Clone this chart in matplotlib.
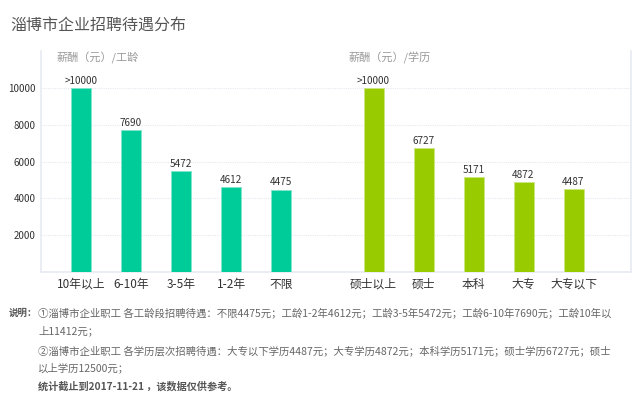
import numpy as np
import matplotlib
matplotlib.use("Agg")
import matplotlib.pyplot as plt

plt.rcParams['font.family'] = ['Noto Sans CJK SC', 'DejaVu Sans']

# data
age_cats = ["10年以上", "6-10年", "3-5年", "1-2年", "不限"]
age_vals = [10000, 7690, 5472, 4612, 4475]
age_labels = [">10000", "7690", "5472", "4612", "4475"]

edu_cats = ["硕士以上", "硕士", "本科", "大专", "大专以下"]
edu_vals = [10000, 6727, 5171, 4872, 4487]
edu_labels = [">10000", "6727", "5171", "4872", "4487"]

yticks = [2000, 4000, 6000, 8000, 10000]

title = "淄博市企业招聘待遇分布"
notes = [
    "①淄博市企业职工 各工龄段招聘待遇：不限4475元；工龄1-2年4612元；工龄3-5年5472元；工龄6-10年7690元；工龄10年以",
    "上11412元；",
    "②淄博市企业职工 各学历层次招聘待遇：大专以下学历4487元；大专学历4872元；本科学历5171元；硕士学历6727元；硕士",
    "以上学历12500元；",
]
footer = "统计截止到2017-11-21 ，该数据仅供参考。"

fig = plt.figure(figsize=(6.4, 4.07), dpi=100)
ax = fig.add_axes([41 / 640, 1 - 272 / 407, 590 / 640, 221 / 407])

x_age = np.arange(len(age_cats))
x_edu = np.arange(len(edu_cats)) + 5.85

ax.bar(x_age, age_vals, width=0.4, color="#00cc99", edgecolor="#7fe5cc", linewidth=0.6, zorder=3)
ax.bar(x_edu, edu_vals, width=0.4, color="#99cc00", edgecolor="#cce57f", linewidth=0.6, zorder=3)

for xs, vs, ls in [(x_age, age_vals, age_labels), (x_edu, edu_vals, edu_labels)]:
    for x, v, l in zip(xs, vs, ls):
        ax.text(x, v + 120, l, ha="center", va="bottom", fontsize=7.2, color="#333333")

ax.set_xlim(-0.8, 11.0)
ax.set_ylim(0, 12000)
ax.set_yticks(yticks)
ax.set_yticklabels([str(t) for t in yticks], fontsize=7, color="#333333")
ax.set_xticks(np.concatenate([x_age, x_edu]))
ax.set_xticklabels(age_cats + edu_cats, fontsize=8.5, color="#333333")
ax.tick_params(length=0, pad=4)

ax.grid(axis="y", color="#e6e9f0", linestyle=(0, (1, 1)), linewidth=0.8, zorder=0)
for side in ["left", "bottom", "right"]:
    ax.spines[side].set_color("#e6eaf2")
    ax.spines[side].set_linewidth(1.2)
ax.spines["top"].set_visible(False)

fig.text(10 / 640, 1 - 25 / 407, title, fontsize=11.5, color="#555555", va="center")
fig.text(56 / 640, 1 - 58 / 407, "薪酬（元）/工龄", fontsize=8, color="#999999", va="center")
fig.text(348 / 640, 1 - 58 / 407, "薪酬（元）/学历", fontsize=8, color="#999999", va="center")

fig.text(9 / 640, 1 - 313 / 407, "说明：", fontsize=6.8, color="#555555", fontweight="bold", va="center")
note_y = [313, 331, 351, 368]
for t, y in zip(notes, note_y):
    fig.text(38 / 640, 1 - y / 407, t, fontsize=7.5, color="#666666", va="center")
fig.text(38 / 640, 1 - 386 / 407, footer, fontsize=7.3, color="#555555", fontweight="bold", va="center")

fig.savefig("out.png", dpi=100)
